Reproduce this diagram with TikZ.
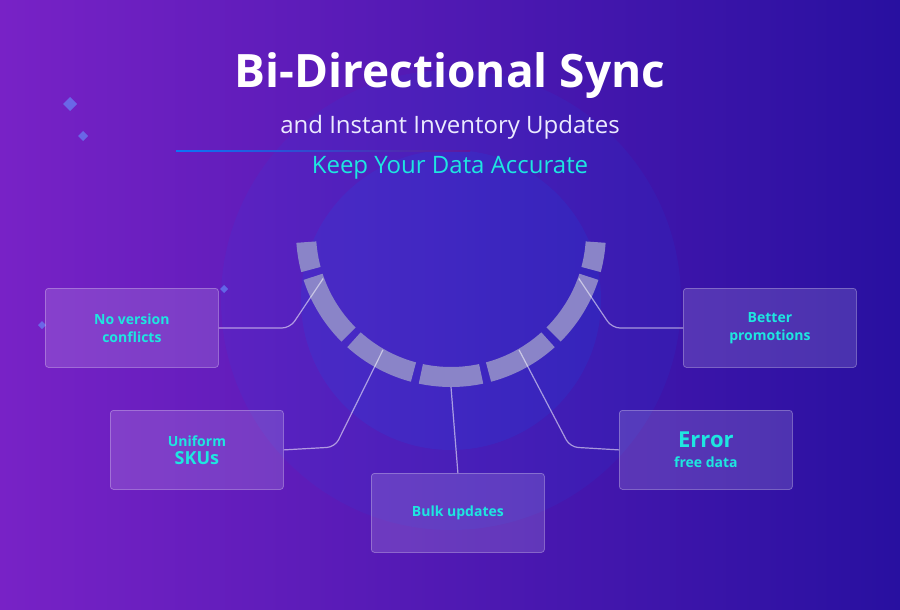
\documentclass[tikz,border=0pt]{standalone}
\usepackage{fontspec}
\setmainfont{Open Sans}
\usetikzlibrary{calc}
\definecolor{cy}{HTML}{1EE6E0}
\definecolor{seg}{HTML}{8A84C8}
\definecolor{ul}{RGB}{120,34,198}
\definecolor{lr}{RGB}{40,16,160}
\definecolor{dk}{RGB}{30,10,130}
\tikzset{
  box/.style={draw=white,draw opacity=0.3,fill=white,fill opacity=0.14,text opacity=1,rounded corners=3pt,minimum width=173pt,minimum height=79pt,inner sep=0pt,anchor=north west,text=cy,font=\bfseries\fontsize{14}{18}\selectfont,align=center,line width=0.8pt},
  conn/.style={draw=white,draw opacity=0.55,line width=1.2pt,rounded corners=8pt},
  dia/.style={fill=blue!70!cyan!60!white,fill opacity=0.6}
}
\begin{document}
\begin{tikzpicture}[x=1pt,y=-1pt]
\useasboundingbox (0,0) rectangle (900,610);
\shade[left color=ul,right color=lr] (0,0) rectangle (900,610);
\shade[top color=dk,bottom color=dk,middle color=dk,opacity=0] (0,0) rectangle (900,610);
\fill[blue!60!cyan,opacity=0.12] (451,300) circle[radius=150];
\fill[blue!60!cyan,opacity=0.08] (451,300) circle[radius=230];
% diamonds
\fill[dia] (70,97) -- (77,104) -- (70,111) -- (63,104) -- cycle;
\fill[dia] (83,131) -- (88,136) -- (83,141) -- (78,136) -- cycle;
\fill[dia] (224,285) -- (228,289) -- (224,293) -- (220,289) -- cycle;
\fill[dia] (42,321) -- (46,325) -- (42,329) -- (38,325) -- cycle;
% titles
\node[text=white,font=\bfseries\fontsize{46}{50}\selectfont] (t1) at (450,76) {Bi-Directional Sync};
\node[text=white!92!blue,font=\fontsize{24}{28}\selectfont] (t2) at (450,127) {and Instant Inventory Updates};
\shade[left color=blue!50!cyan,right color=blue!60!cyan!20!violet,opacity=0.9] (176,150.3) rectangle (470,151.8);
\node[text=cy,font=\fontsize{24}{28}\selectfont] (t3) at (450,168) {Keep Your Data Accurate};
% arc
\coordinate (c) at (451,232);
\foreach \a/\b in {184/195,198/225,228/255,258/282,285/312,315/342,345/356}{
  \fill[seg] ($(c)+(\a:155pt)$) arc[start angle=\a,end angle=\b,radius=155pt] -- ($(c)+(\b:135pt)$) arc[start angle=\b,end angle=\a,radius=135pt] -- cycle;
}
\coordinate (p1) at ($(c)+(200:136pt)$);
\coordinate (p2) at ($(c)+(240:136pt)$);
\coordinate (p3) at ($(c)+(270:155pt)$);
\coordinate (p4) at ($(c)+(300:136pt)$);
\coordinate (p5) at ($(c)+(340:136pt)$);
% boxes
\node[box] (b1) at (45,288) {No version\\conflicts};
\node[box] (b2) at (110,410) {Uniform\\{\fontsize{18}{20}\selectfont SKUs}};
\node[box] (b3) at (371,473) {Bulk updates};
\node[box] (b4) at (619,410) {{\fontsize{22}{24}\selectfont Error}\\[2pt]free data};
\node[box] (b5) at (683,288) {Better\\promotions};
% connectors
\draw[conn] (b1.east) -- (290,328) -- (p1);
\draw[conn] (b2.east) -- (335,447) -- (p2);
\draw[conn] (b3.north) -- (p3);
\draw[conn] (b4.west) -- (570,447) -- (p4);
\draw[conn] (b5.west) -- (612,328) -- (p5);
\end{tikzpicture}
\end{document}
